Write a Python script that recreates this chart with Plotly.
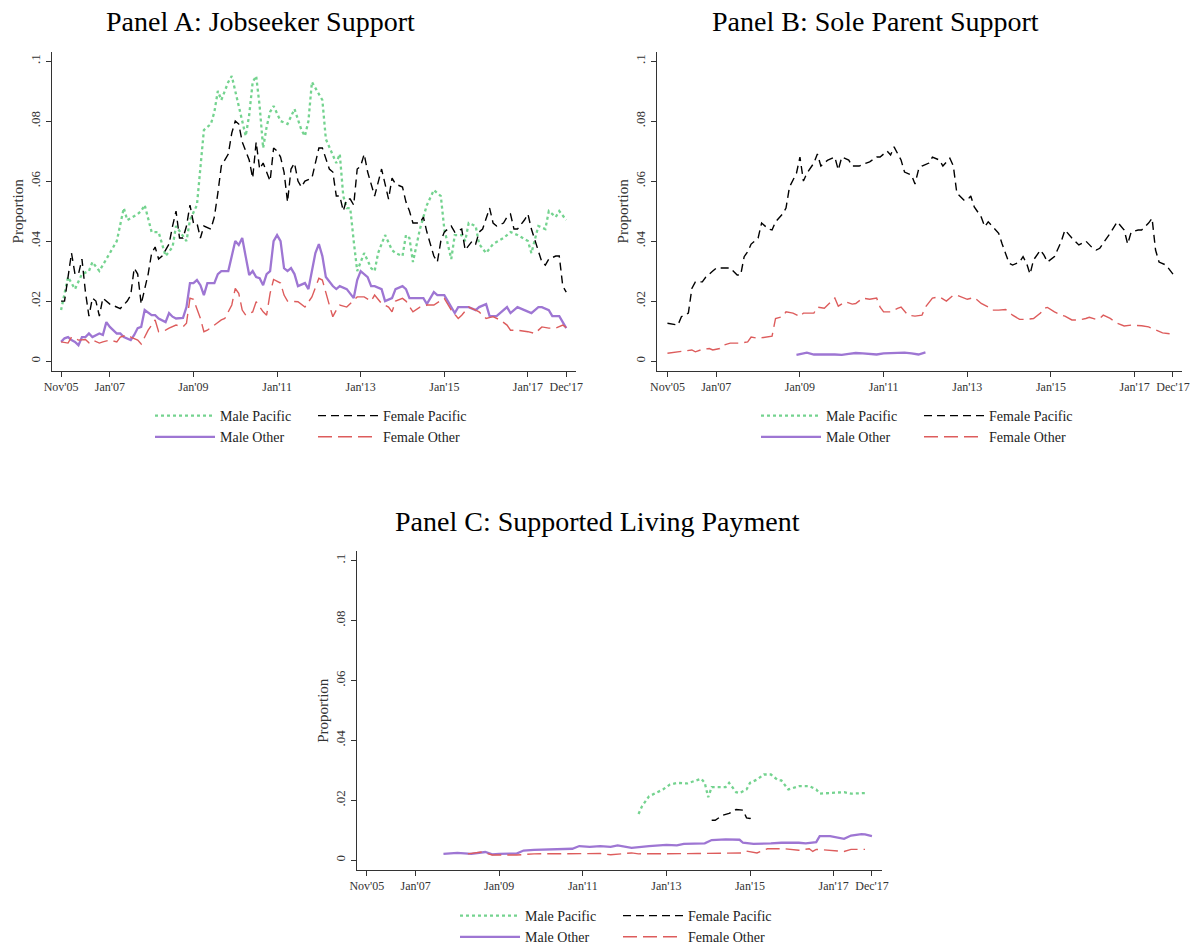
import plotly.graph_objects as go

# x positions are months since Nov 2005
tick_months = [0, 14, 38, 62, 86, 110, 134, 145]
tick_labels = ["Nov'05", "Jan'07", "Jan'09", "Jan'11", "Jan'13", "Jan'15", "Jan'17", "Dec'17"]
y_ticks = [0, 0.02, 0.04, 0.06, 0.08, 0.1]
y_labels = ["0", ".02", ".04", ".06", ".08", ".1"]

# ---- Panel A: Jobseeker Support
a_male_pac_m = [0, 2, 4, 6, 8, 9, 11, 14, 16, 18, 19, 22, 23, 24, 26, 28, 30, 32, 33, 36, 37, 39, 40, 41, 43, 44,
                45, 46, 48, 49, 50, 51, 53, 54, 55, 56, 57, 58, 59, 60, 61, 63, 65, 67, 69, 70, 71, 72, 75, 76, 78,
                79, 80, 81, 82, 83, 84, 85, 86, 87, 89, 90, 91, 93, 95, 96, 98, 99, 100, 101, 103, 105, 107, 109,
                110, 112, 113, 115, 116, 117, 119, 120, 122, 124, 127, 129, 131, 134, 135, 137, 139, 140, 142, 143, 145]
a_male_pac_v = [.017, .028, .024, .029, .030, .033, .030, .036, .040, .051, .047, .049, .050, .052, .043, .043, .035,
                .038, .045, .040, .047, .052, .065, .077, .079, .083, .090, .087, .093, .095, .090, .085, .075, .082,
                .093, .095, .085, .071, .078, .083, .085, .080, .079, .084, .077, .075, .080, .093, .087, .074, .069,
                .066, .069, .055, .051, .051, .040, .030, .033, .036, .031, .030, .036, .042, .037, .036, .035, .042,
                .041, .033, .044, .052, .057, .055, .044, .034, .042, .042, .040, .046, .045, .039, .036, .039, .041,
                .043, .042, .040, .036, .045, .044, .050, .048, .050, .047]

a_fem_pac_m = [0, 1, 3, 4, 5, 6, 7, 8, 9, 10, 11, 12, 14, 16, 17, 19, 20, 21, 22, 23, 25, 26, 27, 28, 29, 30, 31, 32,
               33, 34, 35, 36, 37, 38, 39, 40, 41, 43, 44, 45, 46, 48, 49, 50, 51, 52, 54, 55, 56, 57, 58, 60, 61, 62,
               63, 64, 65, 66, 67, 68, 69, 70, 72, 74, 75, 77, 78, 79, 80, 81, 82, 83, 84, 85, 86, 87, 88, 90, 91, 92,
               94, 95, 96, 98, 99, 100, 101, 103, 104, 105, 107, 108, 109, 110, 112, 113, 115, 116, 118, 119, 120,
               121, 123, 124, 125, 127, 128, 129, 130, 131, 133, 134, 135, 137, 138, 139, 140, 142, 143, 144, 145]
a_fem_pac_v = [.020, .020, .036, .029, .029, .034, .023, .015, .021, .020, .015, .021, .019, .018, .0175, .020, .022,
               .031, .029, .019, .029, .036, .038, .034, .035, .037, .039, .045, .050, .041, .041, .045, .052, .046,
               .046, .041, .045, .044, .048, .056, .065, .069, .076, .080, .079, .073, .067, .061, .073, .064, .066,
               .060, .071, .070, .068, .063, .053, .064, .066, .060, .058, .060, .061, .071, .071, .064, .063, .055,
               .055, .050, .054, .054, .052, .064, .065, .069, .063, .055, .060, .064, .054, .061, .059, .058, .053,
               .050, .046, .046, .048, .043, .035, .033, .040, .043, .045, .043, .044, .037, .040, .039, .043, .044,
               .051, .046, .045, .046, .048, .049, .044, .044, .047, .049, .044, .037, .033, .032, .034, .035, .035,
               .025, .023]

a_male_oth_m = [0, 1, 2, 3, 4, 5, 6, 7, 8, 9, 11, 12, 13, 14, 16, 17, 18, 20, 21, 22, 23, 24, 26, 27, 28, 30, 31, 32,
                33, 35, 36, 37, 38, 39, 40, 41, 42, 44, 45, 46, 48, 49, 50, 51, 52, 53, 54, 55, 56, 57, 58, 59, 60,
                61, 62, 63, 64, 65, 66, 67, 68, 70, 71, 72, 73, 74, 75, 76, 78, 79, 80, 82, 84, 85, 86, 88, 89, 90,
                92, 93, 95, 96, 98, 99, 100, 102, 104, 105, 107, 108, 110, 111, 113, 114, 116, 117, 119, 120, 122,
                123, 125, 127, 128, 129, 131, 133, 135, 137, 138, 140, 141, 143, 144, 145]
a_male_oth_v = [.0064, .0076, .008, .007, .0064, .0053, .008, .008, .0092, .008, .0092, .0087, .013, .0114, .0092,
                .0092, .008, .007, .0087, .011, .0114, .017, .0153, .0153, .0142, .013, .016, .0148, .0142, .0144,
                .018, .026, .026, .027, .0253, .022, .026, .026, .029, .030, .030, .0348, .040, .0387, .041, .0348,
                .0287, .030, .028, .0276, .0253, .029, .030, .040, .042, .040, .031, .030, .031, .029, .025, .026,
                .024, .030, .036, .039, .035, .028, .025, .024, .025, .024, .021, .027, .030, .028, .025, .025, .024,
                .020, .021, .024, .025, .024, .021, .021, .021, .019, .023, .022, .022, .020, .016, .018, .018, .018,
                .017, .018, .019, .015, .015, .017, .018, .016, .018, .017, .016, .018, .018, .017, .015, .015, .013,
                .011]

a_fem_oth_m = [0, 2, 3, 5, 7, 8, 9, 11, 12, 14, 16, 17, 19, 20, 22, 23, 25, 27, 28, 30, 31, 33, 35, 36, 37, 38, 40,
               41, 42, 44, 46, 47, 49, 50, 51, 52, 53, 55, 56, 58, 59, 60, 61, 63, 64, 65, 66, 68, 70, 71, 72, 74,
               75, 77, 78, 79, 80, 82, 83, 85, 87, 89, 90, 92, 94, 95, 96, 98, 99, 101, 103, 105, 107, 109, 110, 112,
               114, 115, 117, 119, 120, 122, 124, 126, 128, 129, 131, 134, 136, 138, 140, 142, 144, 145]
a_fem_oth_v = [.0064, .006, .008, .007, .0072, .0061, .007, .006, .0064, .007, .0064, .008, .0087, .008, .007, .0057,
               .0103, .0137, .0098, .0103, .011, .012, .0114, .0126, .021, .0206, .0142, .0098, .0103, .012, .0137,
               .0142, .0187, .0242, .0226, .017, .0153, .0164, .0198, .0164, .0153, .0226, .0272, .026, .022, .020,
               .020, .0198, .018, .0198, .0214, .0276, .027, .0187, .0148, .017, .0187, .018, .0192, .0214, .0214,
               .020, .022, .0192, .018, .0164, .020, .0209, .020, .0164, .018, .0187, .0187, .020, .0209, .017,
               .0142, .0153, .018, .017, .0164, .0142, .0148, .0137, .012, .0103, .0103, .0098, .0092, .0114, .011,
               .011, .012, .0112]

# ---- Panel B: Sole Parent Support
b_fem_pac_m = [0, 3, 4, 6, 7, 8, 10, 11, 13, 14, 16, 18, 20, 21, 22, 23, 24, 26, 27, 29, 30, 31, 33, 34, 35, 37, 38,
               39, 40, 42, 43, 44, 45, 46, 48, 49, 50, 52, 53, 55, 57, 58, 60, 61, 63, 64, 65, 67, 68, 70, 71, 72,
               73, 75, 76, 78, 79, 81, 82, 83, 85, 86, 87, 88, 90, 91, 92, 94, 95, 96, 97, 98, 99, 101, 102, 103,
               104, 105, 107, 108, 109, 111, 113, 114, 116, 118, 120, 122, 123, 124, 126, 127, 129, 131, 132, 133,
               135, 136, 138, 139, 140, 141, 143, 145]
b_fem_pac_v = [.0126, .012, .0148, .016, .0242, .0264, .0264, .028, .030, .031, .031, .031, .0287, .0287, .0348,
               .0364, .039, .041, .046, .044, .0437, .0464, .049, .051, .058, .0626, .068, .060, .0626, .066, .069,
               .065, .066, .067, .068, .0637, .068, .067, .065, .065, .066, .0664, .068, .068, .070, .0687, .0714,
               .067, .063, .062, .059, .0637, .065, .066, .068, .067, .065, .0676, .065, .056, .0537, .0537, .055,
               .0514, .048, .0448, .0464, .0437, .0426, .039, .036, .0326, .032, .033, .0348, .0326, .029, .0337,
               .037, .0353, .033, .0348, .040, .0437, .041, .0387, .040, .0376, .037, .0376, .041, .0426, .0464,
               .0437, .039, .043, .0437, .0437, .046, .0476, .037, .033, .032, .029]

b_male_oth_m = [37, 39, 40, 42, 44, 46, 48, 50, 52, 54, 56, 58, 60, 62, 64, 66, 68, 70, 72, 74]
b_male_oth_v = [.0021, .0025, .0028, .0022, .0023, .0022, .0022, .0021, .0024, .0027, .0026, .0025, .0022, .0026,
                .0027, .0027, .0028, .0026, .0022, .0029]

b_fem_oth_m = [0, 3, 5, 7, 8, 10, 12, 13, 15, 16, 18, 21, 23, 24, 26, 28, 30, 31, 33, 34, 36, 38, 39, 42, 43, 45, 47,
               48, 49, 51, 53, 54, 56, 58, 60, 61, 62, 64, 66, 67, 69, 71, 73, 74, 76, 78, 80, 82, 83, 85, 86, 88,
               90, 92, 93, 95, 97, 99, 101, 103, 105, 107, 108, 109, 111, 113, 114, 116, 118, 120, 121, 123, 124,
               125, 127, 129, 131, 133, 136, 138, 140, 142, 145]
b_fem_oth_v = [.0026, .0031, .0034, .0037, .0031, .0039, .0042, .0037, .0042, .0053, .006, .006, .0064, .008, .0076,
               .008, .0083, .0142, .0148, .0164, .016, .0148, .016, .016, .018, .0176, .0198, .021, .0183, .0198,
               .019, .0192, .021, .0206, .021, .018, .0164, .0164, .0176, .018, .0153, .015, .0153, .018, .021,
               .0214, .020, .022, .022, .021, .0206, .0212, .0192, .018, .017, .017, .0172, .0153, .0139, .0139,
               .0142, .016, .0176, .0179, .0164, .0153, .015, .0137, .0137, .0142, .0146, .0139, .0142, .0153,
               .0142, .0126, .0117, .012, .0118, .0114, .0103, .0094, .009]

# ---- Panel C: Supported Living Payment
c_male_pac_m = [78, 79, 81, 83, 85, 87, 89, 92, 94, 96, 97, 98, 99, 101, 103, 104, 106, 107, 109, 110, 112, 114, 116,
                118, 119, 121, 124, 127, 129, 130, 133, 137, 139, 142, 143]
c_male_pac_v = [.0154, .018, .0213, .0224, .0236, .0252, .0258, .0256, .0263, .0272, .0258, .021, .0244, .0244,
                .0244, .0258, .0227, .0224, .0236, .0258, .0269, .0286, .0286, .0267, .0266, .0236, .0247, .0247,
                .0236, .0222, .0224, .0227, .0222, .0224, .0224]

c_fem_pac_m = [99, 100, 102, 104, 106, 108, 109, 110, 111]
c_fem_pac_v = [.0133, .0133, .0149, .0156, .0169, .0167, .0141, .0139, .0144]

c_male_oth_m = [22, 26, 30, 34, 36, 38, 43, 45, 48, 52, 55, 59, 61, 64, 67, 70, 72, 76, 81, 86, 89, 91, 97, 99, 103,
                107, 108, 111, 116, 119, 124, 126, 129, 130, 133, 137, 139, 142, 143, 145]
c_male_oth_v = [.0021, .0024, .0021, .0027, .0019, .0021, .0022, .0032, .0034, .0036, .0038, .0038, .0047, .0044,
                .0047, .0044, .0049, .0041, .0047, .0051, .0049, .0054, .0056, .0067, .0069, .0068, .0058, .0054,
                .0056, .0058, .0058, .0056, .006, .008, .008, .0071, .0082, .0087, .0086, .008]

c_fem_oth_m = [29, 33, 36, 43, 48, 57, 67, 70, 76, 78, 86, 95, 108, 109, 112, 115, 120, 124, 127, 128, 129, 133, 135,
               137, 139, 143]
c_fem_oth_v = [.0021, .0027, .0017, .0017, .0021, .0021, .0022, .0018, .0024, .0021, .0021, .0022, .0024, .003,
               .0024, .0038, .0038, .0033, .0038, .0029, .0036, .0033, .0029, .0029, .0036, .0036]

W, H = 1195, 947
FONT = "Liberation Serif"
GREEN = "#74d38f"
PURPLE = "#9e76d3"
RED = "#dd5c5c"

styles = {
    "Male Pacific": dict(color=GREEN, dash="dot", width=2.3),
    "Female Pacific": dict(color="black", dash="8px,5px", width=1.4),
    "Male Other": dict(color=PURPLE, dash="solid", width=2.3),
    "Female Other": dict(color=RED, dash="14px,6px", width=1.4),
}

panels = [
    dict(ax="", title="Panel A: Jobseeker Support", tx=260, ty=22,
         px=(52, 576), py=(51.7, 371), xr=(-2.6, 147.8), leg=(150, 313, 400),
         data={"Male Pacific": (a_male_pac_m, a_male_pac_v), "Female Pacific": (a_fem_pac_m, a_fem_pac_v),
               "Male Other": (a_male_oth_m, a_male_oth_v), "Female Other": (a_fem_oth_m, a_fem_oth_v)}),
    dict(ax="2", title="Panel B: Sole Parent Support", tx=875, ty=22,
         px=(657, 1181.7), py=(51.7, 371), xr=(-3.0, 147.5), leg=(756, 919, 400),
         data={"Male Pacific": ([], []), "Female Pacific": (b_fem_pac_m, b_fem_pac_v),
               "Male Other": (b_male_oth_m, b_male_oth_v), "Female Other": (b_fem_oth_m, b_fem_oth_v)}),
    dict(ax="3", title="Panel C: Supported Living Payment", tx=598, ty=521,
         px=(356.7, 881.7), py=(551.4, 870), xr=(-2.9, 147.8), leg=(455, 618, 900),
         data={"Male Pacific": (c_male_pac_m, c_male_pac_v), "Female Pacific": (c_fem_pac_m, c_fem_pac_v),
               "Male Other": (c_male_oth_m, c_male_oth_v), "Female Other": (c_fem_oth_m, c_fem_oth_v)}),
]

fig = go.Figure()
annotations = []
leg_n = 1
for p in panels:
    left_leg = "legend" if leg_n == 1 else "legend%d" % leg_n
    right_leg = "legend%d" % (leg_n + 1)
    for name in ["Male Pacific", "Male Other", "Female Pacific", "Female Other"]:
        xs, ys = p["data"][name]
        fig.add_trace(go.Scatter(
            x=xs if xs else [None], y=ys if ys else [None], mode="lines", name=name,
            line=styles[name], xaxis="x" + p["ax"], yaxis="y" + p["ax"],
            legend=left_leg if name.startswith("Male") else right_leg,
            hoverinfo="skip"))
    for lg, lx in ((left_leg, p["leg"][0]), (right_leg, p["leg"][1])):
        fig.layout[lg] = dict(x=lx / W, y=1 - p["leg"][2] / H, xanchor="left", yanchor="top",
                              orientation="v", bgcolor="rgba(0,0,0,0)", borderwidth=0,
                              font=dict(family=FONT, size=14, color="#222"), itemwidth=60,
                              traceorder="normal")
    leg_n += 2

    fig.layout["xaxis" + p["ax"]] = dict(
        domain=[p["px"][0] / W, p["px"][1] / W], range=list(p["xr"]), anchor="y" + p["ax"],
        tickvals=tick_months, ticktext=tick_labels, ticks="outside", ticklen=5, tickwidth=1,
        tickcolor="#333", showline=True, linecolor="#333", linewidth=1, showgrid=False, zeroline=False,
        tickfont=dict(family=FONT, size=12, color="#333"), automargin=False)
    fig.layout["yaxis" + p["ax"]] = dict(
        domain=[1 - p["py"][1] / H, 1 - p["py"][0] / H], range=[-0.0033, 0.1031], anchor="x" + p["ax"],
        tickvals=y_ticks, ticktext=y_labels, tickangle=-90, ticks="outside", ticklen=5, tickwidth=1,
        tickcolor="#333", showline=True, linecolor="#333", linewidth=1, showgrid=False, zeroline=False,
        tickfont=dict(family=FONT, size=13, color="#333"), automargin=False, ticklabelstandoff=1,
        title=dict(text="Proportion", font=dict(family=FONT, size=15, color="#333"), standoff=0))
    annotations.append(dict(text=p["title"], x=p["tx"] / W, y=1 - p["ty"] / H, xref="paper", yref="paper",
                            xanchor="center", yanchor="middle", showarrow=False,
                            font=dict(family=FONT, size=28, color="black")))

fig.update_layout(width=W, height=H, margin=dict(l=0, r=0, t=0, b=0, autoexpand=False),
                  plot_bgcolor="white", paper_bgcolor="white", annotations=annotations, showlegend=True)
fig.write_html("out.html", config={"displayModeBar": False},
               post_script="document.body.style.margin = '0';")
